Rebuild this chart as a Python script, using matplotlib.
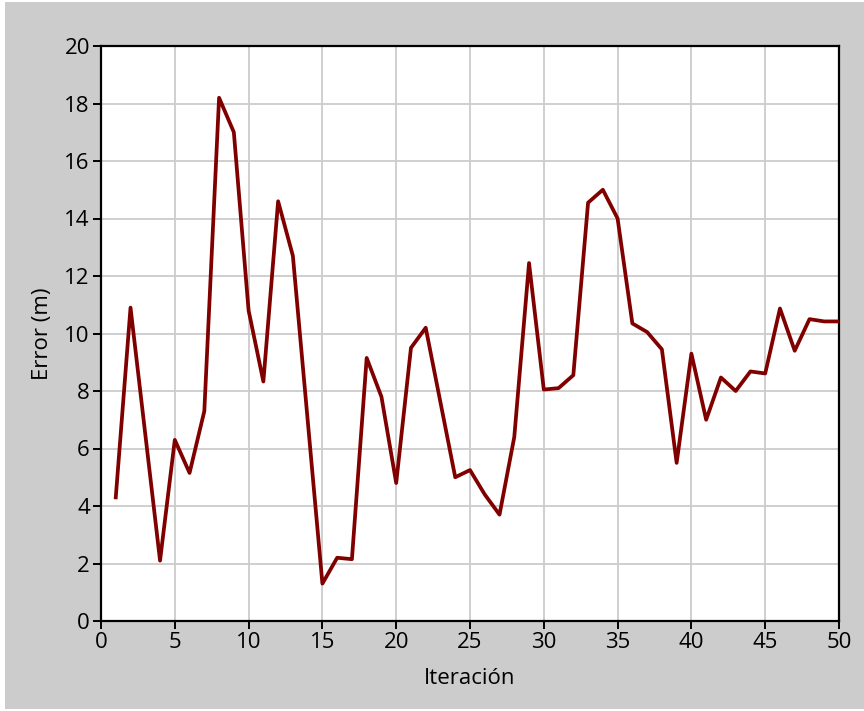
import matplotlib
matplotlib.use("Agg")
import matplotlib.pyplot as plt
from matplotlib.patches import Rectangle

iteracion = list(range(1, 51))
error_m = [4.3, 10.9, 6.5, 2.1, 6.3, 5.15, 7.3, 18.2, 17.0, 10.8,
           8.33, 14.6, 12.7, 7.0, 1.3, 2.2, 2.15, 9.15, 7.8, 4.8,
           9.5, 10.2, 7.6, 5.0, 5.25, 4.4, 3.7, 6.4, 12.45, 8.05,
           8.1, 8.55, 14.55, 15.0, 14.0, 10.35, 10.05, 9.45, 5.5, 9.3,
           7.0, 8.47, 8.0, 8.68, 8.61, 10.87, 9.4, 10.5, 10.42, 10.42]
xticks = [0, 5, 10, 15, 20, 25, 30, 35, 40, 45, 50]
yticks = [0, 2, 4, 6, 8, 10, 12, 14, 16, 18, 20]

plt.rcParams['font.family'] = ['Open Sans', 'DejaVu Sans']

fig = plt.figure(figsize=(8.64, 7.11), dpi=100)
fig.patch.set_facecolor('white')
fig.patches.append(Rectangle((5/864, 2/711), 1 - 5/864, 707/711,
                             transform=fig.transFigure, facecolor='#cccccc',
                             edgecolor='none', zorder=-10))
ax = fig.add_axes([101/864, 1 - 621/711, 738/864, 575/711])
ax.set_facecolor('white')
ax.plot(iteracion, error_m, color='#800000', linewidth=2.7, zorder=3)
ax.set_xlim(0, 50)
ax.set_ylim(0, 20)
ax.set_xticks(xticks)
ax.set_yticks(yticks)
ax.grid(True, color='#cccccc', linewidth=1.3)
ax.set_axisbelow(True)
for s in ax.spines.values():
    s.set_color('black')
    s.set_linewidth(1.6)
ax.tick_params(direction='out', length=6, width=1.4, colors='black',
               labelsize=16, pad=2)
ax.set_xlabel('Iteración', fontsize=16, labelpad=11)
ax.set_ylabel('Error (m)', fontsize=16, labelpad=8)
fig.savefig('out.png', dpi=100)
